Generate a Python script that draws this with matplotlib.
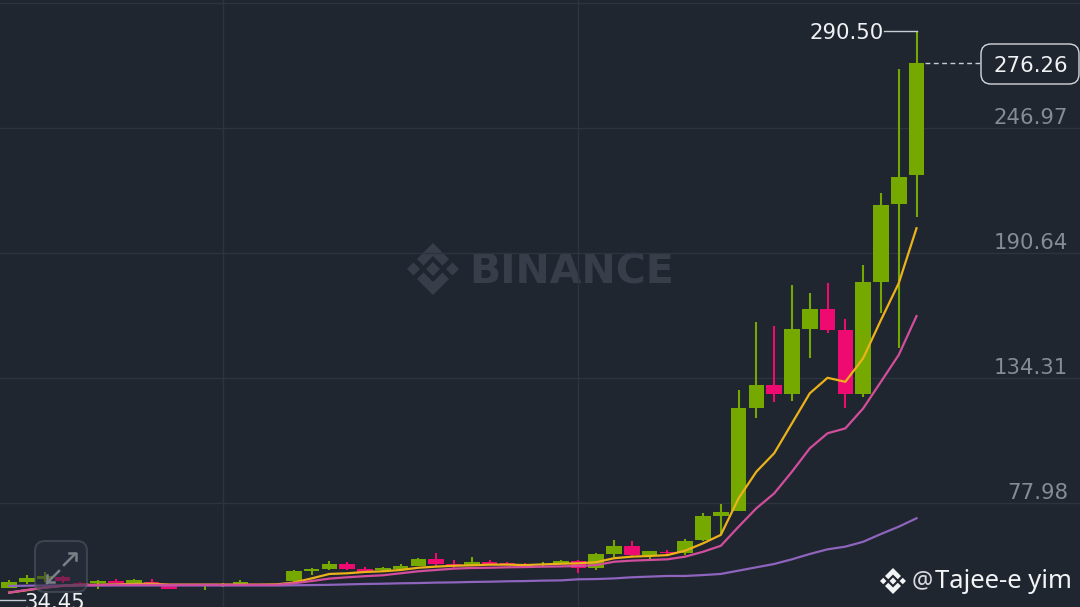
import numpy as np
import matplotlib
matplotlib.use('Agg')
import matplotlib.pyplot as plt
from matplotlib.patches import Polygon, FancyBboxPatch
from matplotlib.transforms import Affine2D

# candle values
opens = [39.5, 42.4, 43.9, 44.6, 42.1, 41.8, 42.8, 41.8, 42.2, 40.6, 40.9, 40.9, 40.9,
         41.5, 41.5, 41.5, 42.7, 47.5, 48.2, 50.5, 48.1, 47.8, 48.1, 49.7, 52.8, 50.4,
         50.0, 51.3, 51.1, 50.5, 49.9, 50.6, 51.7, 48.7, 55.0, 58.6, 54.5, 56.0, 55.6,
         61.2, 72.1, 74.4, 120.8, 131.2, 127.2, 156.5, 165.3, 155.9, 127.2, 177.4, 212.7, 225.6]
closes = [42.5, 44.0, 45.1, 42.7, 41.2, 42.8, 42.1, 43.1, 41.8, 39.2, 41.3, 41.2, 41.5,
          42.5, 41.2, 41.2, 47.5, 48.4, 50.5, 48.2, 47.0, 48.7, 49.7, 52.8, 50.5, 49.7,
          51.4, 50.5, 50.5, 49.3, 50.5, 51.7, 48.8, 55.0, 58.6, 54.5, 56.3, 55.3, 61.0,
          72.0, 74.0, 120.6, 131.2, 127.2, 156.5, 165.3, 155.9, 127.2, 177.4, 212.3, 225.0, 276.26]
highs = [43.3, 45.7, 47.0, 45.1, 42.5, 43.3, 43.6, 43.6, 43.7, 41.5, 41.5, 41.3, 41.8,
         43.1, 41.7, 41.7, 47.8, 48.7, 52.0, 51.4, 49.1, 49.0, 50.3, 53.1, 55.6, 52.1,
         53.5, 52.3, 51.4, 50.8, 51.4, 52.3, 52.3, 55.3, 61.3, 60.8, 56.5, 56.8, 61.6,
         73.3, 77.5, 128.9, 159.7, 157.7, 176.1, 172.7, 177.0, 160.8, 185.2, 217.5, 273.6, 290.5]
lows = [39.5, 41.5, 42.5, 41.9, 40.7, 39.2, 41.9, 41.5, 41.5, 39.1, 40.6, 38.8, 40.0,
        41.0, 41.0, 41.0, 42.4, 45.5, 47.8, 47.9, 46.6, 47.2, 47.8, 49.6, 49.7, 48.6,
        49.6, 50.2, 50.0, 48.7, 49.3, 50.3, 46.3, 47.6, 53.5, 53.5, 52.9, 54.5, 54.5,
        60.9, 63.6, 74.4, 116.4, 123.6, 124.1, 143.4, 154.7, 120.6, 125.9, 163.5, 147.7, 207.0]

ma7 = [37.6, 38.7, 39.9, 40.7, 41.0, 41.2, 41.3, 41.5, 41.6, 41.2, 41.2, 41.2, 41.2,
       41.2, 41.2, 41.3, 42.1, 44.0, 46.0, 46.3, 46.9, 47.2, 47.8, 48.8, 49.3, 49.7,
       49.9, 50.2, 50.2, 50.0, 50.3, 50.6, 50.8, 51.3, 53.1, 53.8, 54.1, 54.5, 56.5,
       59.8, 63.6, 80.1, 92.1, 100.4, 113.9, 127.4, 134.4, 132.6, 143.2, 160.4, 177.0, 201.8]
ma25 = [37.6, 38.8, 39.8, 40.6, 40.9, 41.0, 41.1, 41.1, 41.1, 41.1, 41.1, 41.1, 41.1,
        41.1, 41.1, 41.1, 41.8, 42.8, 43.9, 44.5, 45.0, 45.4, 46.3, 47.2, 47.8, 48.4,
        48.7, 48.8, 49.0, 49.1, 49.3, 49.4, 49.6, 50.0, 51.5, 52.0, 52.3, 52.6, 53.8,
        56.0, 58.7, 67.3, 75.6, 82.3, 92.1, 102.6, 109.4, 111.6, 120.6, 132.6, 144.7, 162.2]
ma99 = [40.6, 40.7, 40.8, 40.8, 40.8, 40.8, 40.8, 40.8, 40.8, 40.8, 40.8, 40.8, 40.8,
        40.8, 40.8, 40.8, 40.9, 41.0, 41.1, 41.3, 41.5, 41.6, 41.8, 41.9, 42.1, 42.2,
        42.4, 42.5, 42.7, 42.8, 43.0, 43.1, 43.6, 43.7, 44.0, 44.5, 44.8, 45.1, 45.1,
        45.5, 46.0, 47.5, 49.0, 50.5, 52.6, 55.0, 57.1, 58.3, 60.5, 64.0, 67.3, 71.1]

price_ticks = [303.30, 246.97, 190.64, 134.31, 77.98, 21.64]
tick_labels = ['', '246.97', '190.64', '134.31', '77.98', '21.64']
time_grid = [12, 32]
last_price = 276.26
max_price = 290.50
min_price = 34.45

BG = '#1f2630'
GRID = '#2d343f'
GREEN = '#76a900'
PINK = '#ee0a70'
LABEL = '#868b94'
WHITE = '#f0f1f3'
LINE = '#c8ccd2'
NUM_SIZE = 15.3
W, H = 1080, 607

plt.rcParams['font.family'] = ['DejaVu Sans']
fig = plt.figure(figsize=(W / 100, H / 100), dpi=100, facecolor=BG)
ax = fig.add_axes([0, 0, 1, 1], facecolor=BG)
ax.set_xlim(-0.517, 60.19)
ax.set_ylim(31.11, 304.65)
ax.axis('off')

# pixel transform (origin top left), for watermark and button
px = Affine2D().scale(1, -1).translate(0, H)


def draw_logo(cx, cy, r, color, zorder):
    s = r / 26.0
    shapes = [
        [(0, -7), (7, 0), (0, 7), (-7, 0)],
        [(-26, 0), (-19.5, -6.5), (-13, 0), (-19.5, 6.5)],
        [(26, 0), (19.5, -6.5), (13, 0), (19.5, 6.5)],
        [(0, -26), (16, -10), (9.5, -3.5), (0, -13), (-9.5, -3.5), (-16, -10)],
        [(0, 26), (16, 10), (9.5, 3.5), (0, 13), (-9.5, 3.5), (-16, 10)],
    ]
    for sh in shapes:
        pts = [(cx + a * s, cy + b * s) for a, b in sh]
        fig.add_artist(Polygon(pts, closed=True, fc=color, ec='none', transform=px, zorder=zorder))


# watermark
ax.set_zorder(2)
ax.patch.set_visible(False)
draw_logo(433, 269, 26, '#383e49', 1)
fig.text(469, 284, 'BINANCE', transform=px, color='#383e49', fontsize=29.5, fontweight='bold',
         va='baseline', ha='left', zorder=1)

# grid
for p in price_ticks:
    ax.axhline(p, color=GRID, lw=1, zorder=1)
for t in time_grid:
    ax.axvline(t, color=GRID, lw=1, zorder=1)

# candles
x = np.arange(len(opens))
o = np.array(opens)
c = np.array(closes)
colors = [GREEN if c[i] >= o[i] else PINK for i in x]
ax.vlines(x, lows, highs, colors=colors, lw=1.5, zorder=3)
ax.bar(x, np.abs(c - o), bottom=np.minimum(o, c), width=0.88, color=colors, zorder=3)

# moving averages
ax.plot(x, ma7, color='#ecb21a', lw=1.6, zorder=4)
ax.plot(x, ma99, color='#8e64bd', lw=1.6, zorder=5)
ax.plot(x, ma25, color='#d24e9d', lw=1.6, zorder=6)

# price labels
for p, lab in zip(price_ticks, tick_labels):
    if lab:
        ax.annotate(lab, xy=(1068, p), xycoords=('figure pixels', 'data'), xytext=(0, 10),
                    textcoords='offset pixels', color=LABEL, fontsize=NUM_SIZE, ha='right', va='center',
                    zorder=7, annotation_clip=False)

# max price
ax.plot([x[-1], x[-1] - 1.85], [max_price, max_price], color=LINE, lw=1, zorder=7)
ax.annotate('%.2f' % max_price, xy=(x[-1] - 1.85, max_price), xytext=(0, -2), textcoords='offset pixels',
            color=WHITE, fontsize=NUM_SIZE, ha='right', va='center', zorder=7)

# last price
ax.hlines(last_price, x[-1] + 0.45, 54.6, color=LINE, lw=1, linestyles=(0, (3.5, 2.5)), zorder=7)
fig.add_artist(FancyBboxPatch((987, 50), 86, 28, boxstyle='round,pad=6,rounding_size=10', fc=BG,
                              ec='#d5d8dc', lw=1, transform=px, zorder=8))
fig.text(1031, 66, '%.2f' % last_price, transform=px, color=WHITE, fontsize=NUM_SIZE, ha='center', va='center', zorder=9)

# min price
ax.plot([-0.517, 0.87], [min_price, min_price], color=LINE, lw=1, zorder=7)
ax.annotate('%.2f' % min_price, xy=(0.87, min_price), xytext=(0, -3), textcoords='offset pixels',
            color=WHITE, fontsize=NUM_SIZE, ha='left', va='center', zorder=7, annotation_clip=False)

# expand button
fig.add_artist(FancyBboxPatch((42, 548), 38, 37, boxstyle='round,pad=7,rounding_size=10', fc='#2a303b', alpha=0.55,
                              ec='#555b66', lw=1.5, transform=px, zorder=9))
for seg in [[(64, 565), (75, 554)], [(69, 553), (76, 553), (76, 560)],
            [(59, 571), (47, 583)], [(47, 575), (47, 582), (54, 582)]]:
    xs, ys = zip(*seg)
    fig.add_artist(plt.Line2D(xs, ys, color='#7c8087', lw=1.8, transform=px, zorder=10))

# author tag
draw_logo(893, 581, 13, '#f2f3f5', 10)
fig.text(912, 581, '@', transform=px, color='#d8dadd', fontsize=17, ha='left', va='center',
         family=['Noto Sans', 'DejaVu Sans'], zorder=10)
fig.text(1072, 582, 'Tajee-e yim', transform=px, color='#f2f3f5', fontsize=18.5, ha='right', va='center',
         family=['Noto Sans', 'DejaVu Sans'], zorder=10)

fig.savefig('out.png', dpi=100, facecolor=BG)
